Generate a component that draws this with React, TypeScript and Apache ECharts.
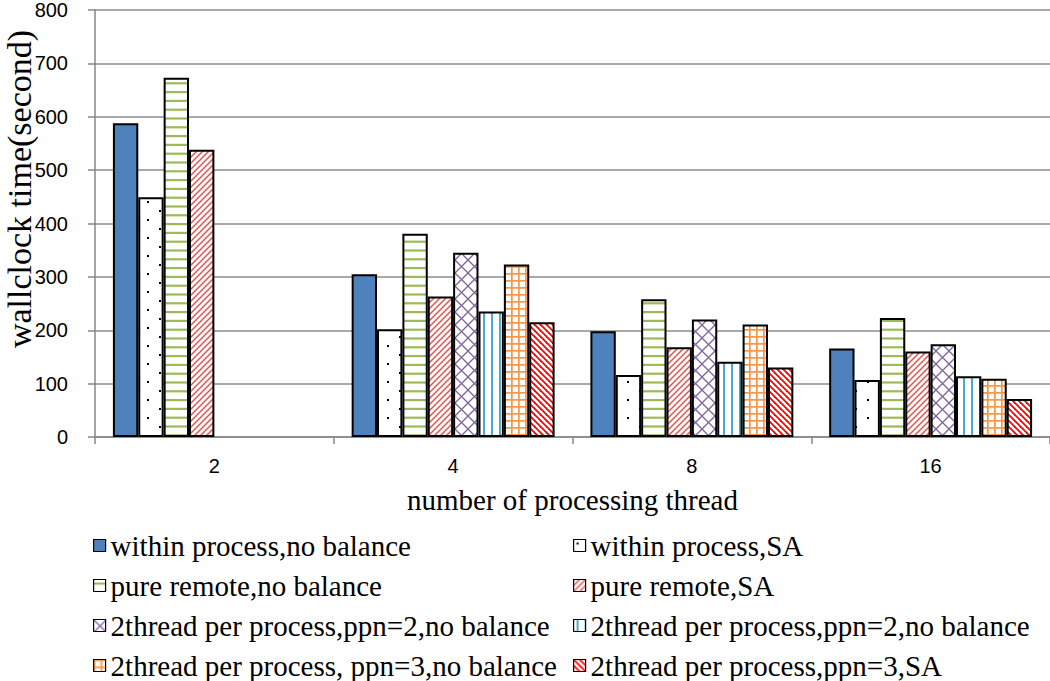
import React, { useEffect, useRef } from "react";
import * as echarts from "echarts";

const categories = ["2", "4", "8", "16"];
const seriesLabels = [
  "within process,no balance",
  "within process,SA",
  "pure remote,no balance",
  "pure remote,SA",
  "2thread per process,ppn=2,no balance",
  "2thread per process,ppn=2,no balance ",
  "2thread per process, ppn=3,no balance",
  "2thread per process,ppn=3,SA",
];
const withinNoBalance = [588, 305, 198, 166];
const withinSA = [449, 202, 116, 107];
const remoteNoBalance = [673, 381, 258, 223];
const remoteSA = [538, 263, 168, 160];
const ppn2NoBalanceA = [null, 345, 220, 174];
const ppn2NoBalanceB = [null, 235, 141, 114];
const ppn3NoBalance = [null, 323, 211, 109];
const ppn3SA = [null, 215, 130, 71];
const yMin = 0;
const yMax = 800;
const yInterval = 100;
const yTitle = "wallclock time(second)";
const xTitle = "number of processing thread";

function tile(w: number, h: number, draw: (ctx: CanvasRenderingContext2D) => void) {
  const c = document.createElement("canvas");
  c.width = w;
  c.height = h;
  const ctx = c.getContext("2d") as CanvasRenderingContext2D;
  ctx.fillStyle = "#ffffff";
  ctx.fillRect(0, 0, w, h);
  draw(ctx);
  return { image: c, repeat: "repeat", imageWidth: w, imageHeight: h } as any;
}

function line(ctx: CanvasRenderingContext2D, pts: number[][], color: string, width: number) {
  ctx.strokeStyle = color;
  ctx.lineWidth = width;
  for (const p of pts) {
    ctx.beginPath();
    ctx.moveTo(p[0], p[1]);
    ctx.lineTo(p[2], p[3]);
    ctx.stroke();
  }
}

export default function App() {
  const ref = useRef<HTMLDivElement>(null);
  useEffect(() => {
    document.body.style.margin = "0";
    const chart = echarts.init(ref.current as HTMLDivElement, null, { renderer: "svg" });

    const dots = tile(24, 18, (ctx) => {
      ctx.fillStyle = "#000";
      ctx.fillRect(3, 3, 2, 2);
      ctx.fillRect(15, 12, 2, 2);
    });
    const greenH = tile(4, 44, (ctx) => {
      ctx.fillStyle = "#9BBB59";
      for (let i = 0; i < 5; i++) ctx.fillRect(0, i * 8.8 + 3, 4, 2.2);
    });
    const redFwd = tile(6, 6, (ctx) => {
      line(ctx, [[0, 6, 6, 0], [-1, 1, 1, -1], [5, 7, 7, 5]], "#E2504B", 1.4);
    });
    const purpleX = tile(13, 13, (ctx) => {
      line(ctx, [[0, 0, 13, 13], [13, 0, 0, 13]], "#8064A2", 1.3);
    });
    const cyanV = tile(8, 4, (ctx) => {
      ctx.fillStyle = "#4BACC6";
      ctx.fillRect(3, 0, 2, 4);
    });
    const orangeGrid = tile(7, 7, (ctx) => {
      ctx.fillStyle = "#F79646";
      ctx.fillRect(0, 0, 7, 1.7);
      ctx.fillRect(0, 0, 1.7, 7);
    });
    const redBack = tile(6, 6, (ctx) => {
      line(ctx, [[0, 0, 6, 6], [-1, 5, 1, 7], [5, -1, 7, 1]], "#FF0000", 1.8);
    });

    const values = [
      withinNoBalance,
      withinSA,
      remoteNoBalance,
      remoteSA,
      ppn2NoBalanceA,
      ppn2NoBalanceB,
      ppn3NoBalance,
      ppn3SA,
    ];
    const fills: any[] = ["#4F81BD", dots, greenH, redFwd, purpleX, cyanV, orangeGrid, redBack];

    const axisGray = "#878787";
    const legends = seriesLabels.map((name, i) => ({
      orient: "horizontal",
      left: i % 2 === 0 ? 93 : 573,
      top: 531 + Math.floor(i / 2) * 40,
      itemWidth: 12,
      itemHeight: 12,
      icon: "rect",
      selectedMode: false,
      padding: 0,
      data: [name],
      itemStyle: { borderColor: "#000", borderWidth: 1.2 },
      textStyle: { fontFamily: "Liberation Serif", fontSize: 29, color: "#000", lineHeight: 29 },
      formatter: (n: string) => n.trim(),
    }));

    chart.setOption({
      animation: false,
      grid: { left: 95, right: 0, top: 8, bottom: 244, containLabel: false },
      legend: legends,
      graphic: [
        {
          type: "text",
          x: 19,
          y: 189,
          rotation: Math.PI / 2,
          style: {
            text: yTitle,
            font: '34px "Liberation Serif"',
            fill: "#000",
            textAlign: "center",
            textVerticalAlign: "middle",
          },
        },
      ],
      xAxis: {
        type: "category",
        data: categories,
        axisLine: { lineStyle: { color: axisGray, width: 1.5 } },
        axisTick: { show: true, length: 7, lineStyle: { color: axisGray, width: 1.5 } },
        axisLabel: { margin: 19, fontFamily: "Liberation Sans", fontSize: 20, color: "#000" },
        name: xTitle,
        nameLocation: "middle",
        nameGap: 48,
        nameTextStyle: { fontFamily: "Liberation Serif", fontSize: 29, color: "#000" },
      },
      yAxis: {
        type: "value",
        min: yMin,
        max: yMax,
        interval: yInterval,
        axisLine: { show: true, lineStyle: { color: axisGray, width: 1.5 } },
        axisTick: { show: true, length: 7, lineStyle: { color: axisGray, width: 1.5 } },
        axisLabel: { margin: 27, fontFamily: "Liberation Sans", fontSize: 20, color: "#000" },
        splitLine: { lineStyle: { color: "#8c8c8c", width: 1.5 } },
      },
      series: values.map((v, i) => ({
        type: "bar",
        name: seriesLabels[i],
        data: v,
        barGap: "0%",
        barCategoryGap: "15%",
        itemStyle: { color: fills[i], borderColor: "#000", borderWidth: 2 },
      })),
    });
    return () => chart.dispose();
  }, []);
  return <div ref={ref} style={{ width: 1050, height: 681 }} />;
}
